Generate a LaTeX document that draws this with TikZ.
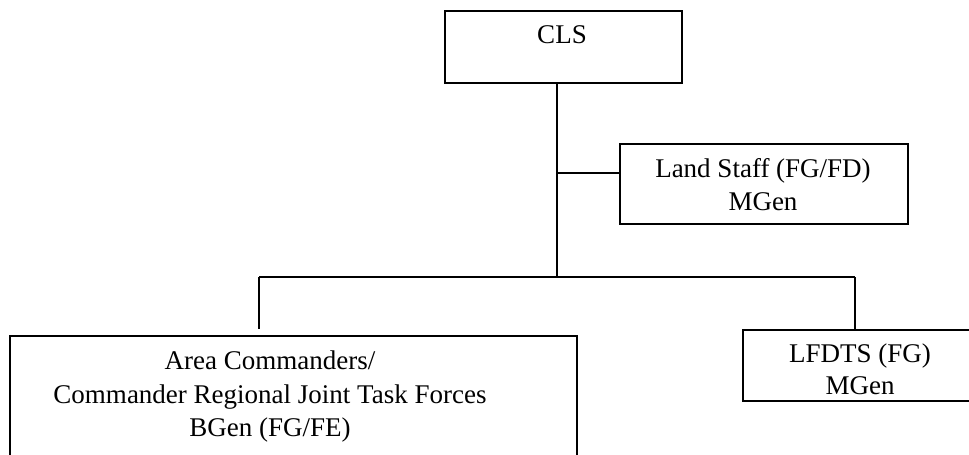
\documentclass[tikz,border=0pt]{standalone}
\usepackage{fontspec}
\setmainfont{Liberation Serif}
\begin{document}
\begin{tikzpicture}[x=1pt,y=-1pt,
  box/.style={draw=black,line width=2pt,inner sep=0pt,anchor=north west},
  link/.style={draw=black,line width=1.3pt},
  lbl/.style={font=\fontsize{27}{33}\selectfont,inner sep=0pt,anchor=base}]
\useasboundingbox (0,0) rectangle (969,455);

% boxes
\node[box,minimum width=237pt,minimum height=72pt] (cls) at (444,10) {};
\node[box,minimum width=288pt,minimum height=80pt] (land) at (619,143) {};
\node[box,minimum width=236pt,minimum height=71pt] (lfdts) at (742,329) {};
\node[box,minimum width=567pt,minimum height=140pt] (area) at (9,335) {};

% labels
\node[lbl] (clsT) at (562,43) {CLS};
\node[lbl] (landT1) at (763,177) {Land Staff (FG/FD)};
\node[lbl] (landT2) at (763,210) {MGen};
\node[lbl] (lfdtsT1) at (860,362) {LFDTS (FG)};
\node[lbl] (lfdtsT2) at (860,394) {MGen};
\node[lbl] (areaT1) at (270,369) {Area Commanders/};
\node[lbl] (areaT2) at (270,403) {Commander Regional Joint Task Forces};
\node[lbl] (areaT3) at (270,436) {BGen (FG/FE)};

% connectors
\coordinate (trunk) at (557,277);
\coordinate (side) at (557,173);
\coordinate (left) at (259,277);
\coordinate (right) at (855,277);
\coordinate (leftEnd) at (259,329);

\draw[link] (cls.south -| trunk) -- (trunk);
\draw[link] (side) -- (side -| land.west);
\draw[link] (left) -- (right);
\draw[link] (left) -- (leftEnd);
\draw[link] (right) -- (right |- lfdts.north);
\end{tikzpicture}
\end{document}
